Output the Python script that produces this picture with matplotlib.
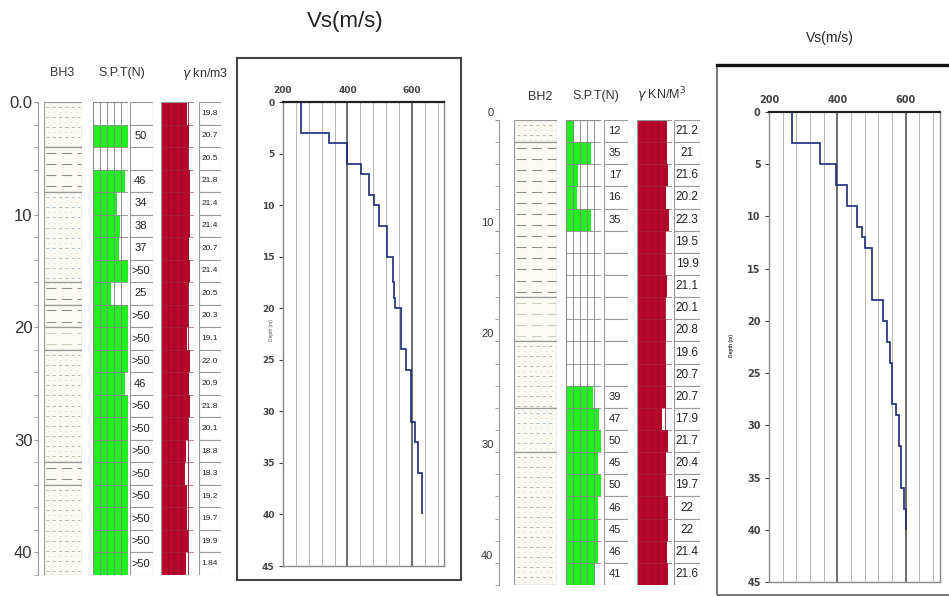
import numpy as np
import matplotlib
matplotlib.use("Agg")
import matplotlib.pyplot as plt
import matplotlib.transforms as mtransforms
from matplotlib.patches import Rectangle

W, H = 949, 596
NARROW = ['Liberation Sans Narrow', 'Liberation Sans', 'DejaVu Sans']
plt.rcParams['font.family'] = NARROW

# ---------------- data ----------------
# BH3 (left log), 21 rows of 2 m
spt3_labels = ["", "50", "", "46", "34", "38", "37", ">50", "25", ">50", ">50",
               ">50", "46", ">50", ">50", ">50", ">50", ">50", ">50", ">50", ">50"]
spt3 = [np.nan, 50, np.nan, 46, 34, 38, 37, 50, 25, 50, 50,
        50, 46, 50, 50, 50, 50, 50, 50, 50, 50]
gamma3_labels = ["19.8", "20.7", "20.5", "21.8", "21.4", "21.4", "20.7", "21.4", "20.5", "20.3", "19.1",
                 "22.0", "20.9", "21.8", "20.1", "18.8", "18.3", "19.2", "19.7", "19.9", "1.84"]
gamma3 = [19.8, 20.7, 20.5, 21.8, 21.4, 21.4, 20.7, 21.4, 20.5, 20.3, 19.1,
          22.0, 20.9, 21.8, 20.1, 18.8, 18.3, 19.2, 19.7, 19.9, 18.4]
litho3_top = [0, 4, 8, 16, 18, 20, 22, 32, 34]
litho3_bot = [4, 8, 16, 18, 20, 22, 32, 34, 42]
litho3_type = ["silt", "clay", "siltb", "clay", "clay", "clayl", "silt", "clay", "silt"]

# BH2 (right log)
spt2_labels = ["12", "35", "17", "16", "35", "", "", "", "", "", "", "",
               "39", "47", "50", "45", "50", "46", "45", "46", "41"]
spt2 = [12, 35, 17, 16, 35, np.nan, np.nan, np.nan, np.nan, np.nan, np.nan, np.nan,
        39, 47, 50, 45, 50, 46, 45, 46, 41]
gamma2_labels = ["21.2", "21", "21.6", "20.2", "22.3", "19.5", "19.9", "21.1", "20.1", "20.8", "19.6",
                 "20.7", "20.7", "17.9", "21.7", "20.4", "19.7", "22", "22", "21.4", "21.6"]
gamma2 = [21.2, 21.0, 21.6, 20.2, 22.3, 19.5, 19.9, 21.1, 20.1, 20.8, 19.6,
          20.7, 20.7, 17.9, 21.7, 20.4, 19.7, 22.0, 22.0, 21.4, 21.6]
litho2_top = [0, 2, 16, 20, 26, 30]
litho2_bot = [2, 16, 20, 26, 30, 42]
litho2_type = ["silt", "clay", "clayl", "silt", "siltb", "silt"]

# Vs profiles (depth edges in m, Vs in m/s per interval)
vs3_edges = [0, 3, 4, 6, 7, 9, 10, 12, 15, 17.5, 19, 20, 24, 26, 31, 33, 36, 40]
vs3 = [255, 343, 400, 441, 468, 483, 499, 524, 541, 545, 548, 565, 582, 598, 610, 618, 631]
vs2_edges = [0, 3, 5, 7, 9, 11, 12, 13, 18, 20, 22, 24, 28, 29, 32, 36, 38, 40]
vs2 = [268, 349, 396, 427, 458, 473, 481, 502, 532, 544, 555, 560, 570, 580, 587, 596, 601]

ROW = 2.0
GREEN = '#22ee22'
RED = '#b8052c'

fig = plt.figure(figsize=(W / 100, H / 100), dpi=100)
fig.patch.set_facecolor('white')


def ax_px(x0, y0, x1, y1):
    return fig.add_axes([x0 / W, 1 - y1 / H, (x1 - x0) / W, (y1 - y0) / H])


def blank(ax):
    ax.set_xticks([])
    ax.set_yticks([])
    for s in ax.spines.values():
        s.set_visible(False)


def draw_log(cols, top, bot, spt, spt_lab, gam, gam_lab, ltop, lbot, ltype,
             spt_fs, gam_fs):
    n = len(spt)
    depth_max = n * ROW
    centers = np.arange(n) * ROW + ROW / 2
    # litho
    ax = ax_px(cols['litho'][0], top, cols['litho'][1], bot)
    blank(ax)
    ax.set_xlim(0, 1)
    ax.set_ylim(depth_max, 0)
    for t, b, ty in zip(ltop, lbot, ltype):
        ax.add_patch(Rectangle((0, t), 1, b - t, facecolor='#fcfbf3',
                               edgecolor='#9a9a9a', lw=0.9))
        if ty.startswith('silt'):
            col = '#a9c0cf' if ty == 'siltb' else '#bdb3a2'
            ys = np.arange(t + 0.45, b - 0.1, 0.9)
            ax.hlines(ys, 0.06, 0.96, colors=col, lw=0.7, linestyles=(0, (3, 3.5)))
            ax.hlines(ys + 0.45, 0.1, 0.96, colors=col, lw=0.6, linestyles=(0, (0.8, 6)))
        else:
            col = '#cfcfc0' if ty == 'clayl' else '#8e8e88'
            ys = np.arange(t + 0.5, b - 0.1, 1.0)
            ax.hlines(ys, 0.05, 0.98, colors=col, lw=0.8, linestyles=(0, (9, 5)))
    # SPT bars
    ax = ax_px(cols['spt'][0], top, cols['spt'][1], bot)
    blank(ax)
    ax.set_xlim(0, 50)
    ax.set_ylim(depth_max, 0)
    ax.barh(centers, spt, height=ROW, color=GREEN, zorder=1)
    ax.vlines([10, 20, 30, 40], 0, depth_max, colors='#7a8a7a', lw=0.6, zorder=2)
    ax.hlines(np.arange(0, depth_max + 0.1, ROW), 0, 50, colors='#8a8a8a', lw=0.6, zorder=2)
    ax.add_patch(Rectangle((0, 0), 50, depth_max, fill=False, edgecolor='#8a8a8a', lw=0.8, zorder=3))
    # SPT labels
    ax = ax_px(cols['sptl'][0], top, cols['sptl'][1], bot)
    blank(ax)
    ax.set_xlim(0, 1)
    ax.set_ylim(depth_max, 0)
    for c, lab in zip(centers, spt_lab):
        ax.add_patch(Rectangle((0, c - ROW / 2), 1, ROW, facecolor='white', edgecolor='#9a9a9a', lw=0.8))
        ax.text(0.45, c, lab, ha='center', va='center', fontsize=spt_fs, color='#222222')
    # gamma bars
    ax = ax_px(cols['gam'][0], top, cols['gam'][1], bot)
    blank(ax)
    ax.set_xlim(0, 24.7)
    ax.set_ylim(depth_max, 0)
    ax.barh(centers, gam, height=ROW, color=RED, zorder=1)
    ax.vlines([5, 10, 15, 20], 0, depth_max, colors='#8a1020', lw=0.6, zorder=2)
    ax.hlines(np.arange(0, depth_max + 0.1, ROW), 0, 24.7, colors='#9a3040', lw=0.4, zorder=2)
    ax.add_patch(Rectangle((0, 0), 24.7, depth_max, fill=False, edgecolor='#9a9a9a', lw=0.8, zorder=3))
    # gamma labels
    ax = ax_px(cols['gaml'][0], top, cols['gaml'][1], bot)
    blank(ax)
    ax.set_xlim(0, 1)
    ax.set_ylim(depth_max, 0)
    for c, lab in zip(centers, gam_lab):
        ax.add_patch(Rectangle((0, c - ROW / 2), 1, ROW, facecolor='white', edgecolor='#9a9a9a', lw=0.8))
        ax.text(0.5, c, lab, ha='center', va='center', fontsize=gam_fs, color='#222222')
    # depth axis
    ax = ax_px(cols['axis'], top, cols['axis'] + 2, bot)
    ax.set_xlim(0, 1)
    ax.set_ylim(depth_max, 0)
    ax.patch.set_visible(False)
    ax.set_xticks([])
    for k in ['top', 'right', 'bottom']:
        ax.spines[k].set_visible(False)
    ax.spines['left'].set_color('#9a9a9a')
    ax.spines['left'].set_linewidth(0.8)
    ax.set_yticks(np.arange(0, depth_max + 0.1, ROW), minor=True)
    ax.tick_params(axis='y', which='minor', length=3, color='#9a9a9a', width=0.6)
    return ax


# ---------------- BH3 ----------------
cols3 = dict(axis=38, litho=(44, 82), spt=(93, 128), sptl=(130, 153),
             gam=(161, 194), gaml=(199, 221))
ax3 = draw_log(cols3, 102, 575, spt3, spt3_labels, gamma3, gamma3_labels,
               litho3_top, litho3_bot, litho3_type, 8, 6)
ax3.set_yticks([0, 10, 20, 30, 40])
ax3.set_yticklabels(["0.0", "10", "20", "30", "40"], fontsize=12, color='#333333')
ax3.tick_params(axis='y', which='major', length=3, color='#9a9a9a', pad=1)

fig.text(62 / W, 1 - 73 / H, "BH3", ha='center', va='center', fontsize=9, color='#333333')
fig.text(122 / W, 1 - 73 / H, "S.P.T(N)", ha='center', va='center', fontsize=9, color='#333333')
fig.text(205 / W, 1 - 74 / H, r"$\gamma$ kn/m3", ha='center', va='center', fontsize=9, color='#333333')

# ---------------- BH2 ----------------
cols2 = dict(axis=499, litho=(514, 557), spt=(566, 601), sptl=(604, 628),
             gam=(637, 672), gaml=(674, 700))
ax2 = draw_log(cols2, 120, 585, spt2, spt2_labels, gamma2, gamma2_labels,
               litho2_top, litho2_bot, litho2_type, 8, 8.5)
ax2.set_yticks([0, 10, 20, 30, 40])
ax2.set_yticklabels(["0", "10", "20", "30", "40"], fontsize=8, color='#333333')
ax2.tick_params(axis='y', which='major', length=3, color='#9a9a9a', pad=1)
off = mtransforms.ScaledTranslation(0, 6 / 72, fig.dpi_scale_trans)
for lab in ax2.get_yticklabels():
    lab.set_transform(lab.get_transform() + off)

fig.text(540 / W, 1 - 97 / H, "BH2", ha='center', va='center', fontsize=9, color='#333333')
fig.text(596 / W, 1 - 96 / H, "S.P.T(N)", ha='center', va='center', fontsize=9, color='#333333')
fig.text(662 / W, 1 - 95 / H, r"$\gamma$ KN/M$^3$", ha='center', va='center', fontsize=9, color='#333333')


# ---------------- Vs charts ----------------
def vs_chart(x0, y0, x1, y1, edges, vs, tick_fs):
    ax = ax_px(x0, y0, x1, y1)
    ax.set_xlim(200, 700)
    ax.set_ylim(45, 0)
    ax.xaxis.tick_top()
    ax.set_xticks([200, 400, 600])
    ax.set_yticks(np.arange(0, 46, 5))
    ax.tick_params(axis='x', length=0, labelsize=tick_fs, colors='#444444', pad=5)
    ax.tick_params(axis='y', length=3, labelsize=tick_fs, colors='#444444', pad=3, width=0.8)
    minor = [v for v in range(240, 700, 40) if v not in (400, 600)]
    ax.vlines(minor, 0, 45, colors='#b8b8b8', lw=0.7, zorder=1)
    ax.vlines([400, 600], 0, 45, colors='#555555', lw=1.2, zorder=1)
    for k in ['left', 'right', 'bottom']:
        ax.spines[k].set_color('#888888')
        ax.spines[k].set_linewidth(1.0)
    ax.spines['top'].set_color('#222222')
    ax.spines['top'].set_linewidth(1.6)
    ax.stairs(vs, edges, orientation='horizontal', baseline=None,
              color='#1e2a78', lw=1.2, zorder=3)
    for t in ax.get_xticklabels() + ax.get_yticklabels():
        t.set_fontfamily('DejaVu Sans')
        t.set_fontweight('bold')
    return ax


vs_chart(283, 102, 444, 566, vs3_edges, vs3, 6.5)
vs_chart(769, 112, 940, 582, vs2_edges, vs2, 7)

# frames
fig.add_artist(Rectangle((237 / W, 1 - 580 / H), (461 - 237) / W, (580 - 58) / H,
                         transform=fig.transFigure, fill=False, edgecolor='#444444', lw=1.5))
fig.add_artist(Rectangle((717 / W, 1 - 595 / H), (960 - 717) / W, (595 - 65) / H,
                         transform=fig.transFigure, fill=False, edgecolor='#777777', lw=1.4))
fig.add_artist(plt.Line2D([717 / W, 1], [1 - 65 / H, 1 - 65 / H], transform=fig.transFigure,
                          color='#111111', lw=2.4))

# depth labels (tiny, rotated)
fig.text(272 / W, 1 - 330 / H, "Depth (m)", rotation=90, ha='center', va='center',
         fontsize=3.5, color='#555555')
fig.text(731 / W, 1 - 345 / H, "Depth (m)", rotation=90, ha='center', va='center',
         fontsize=3.5, color='#333333', fontweight='bold')

# titles
fig.text(345 / W, 1 - 22 / H, "Vs(m/s)", ha='center', va='center', fontsize=16,
         color='#222222', family=['Liberation Sans', 'DejaVu Sans'])
fig.text(830 / W, 1 - 38 / H, "Vs(m/s)", ha='center', va='center', fontsize=10,
         color='#222222')

fig.savefig("out.png", dpi=100)
